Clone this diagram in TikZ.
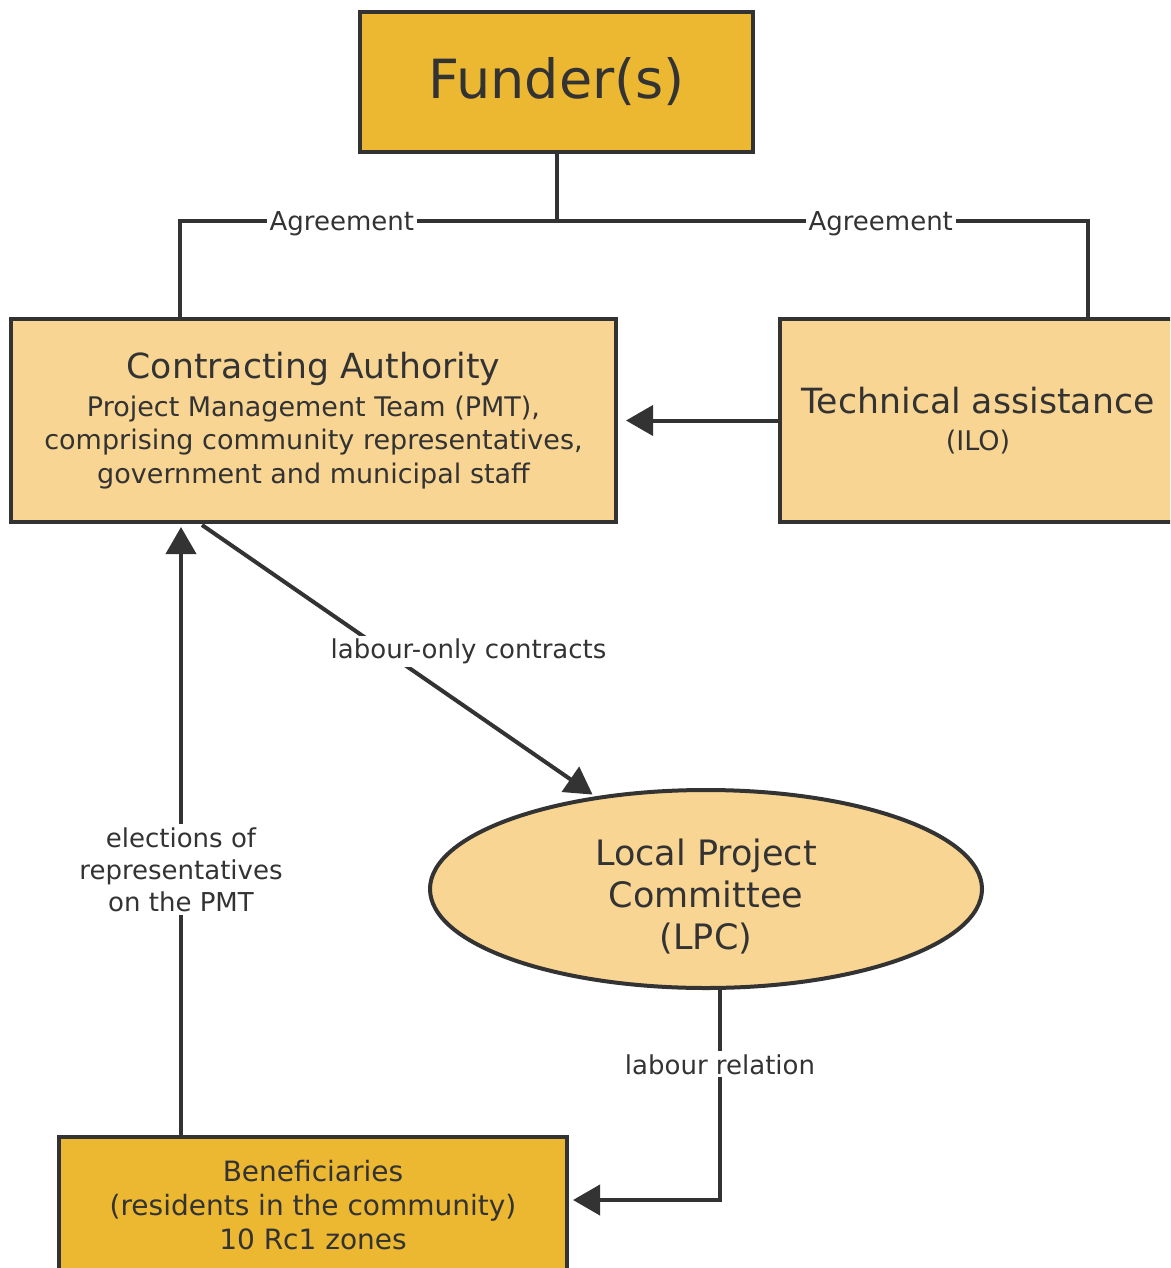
\documentclass[tikz,border=0pt]{standalone}
\usepackage{fontspec}
\setmainfont{DejaVu Sans}
\usetikzlibrary{arrows.meta,shapes.geometric,calc}
\definecolor{gold}{RGB}{236,183,49}
\definecolor{pale}{RGB}{248,213,146}
\definecolor{ink}{RGB}{51,51,51}
\begin{document}
\begin{tikzpicture}[x=1pt,y=-1pt,
  box/.style={draw=ink, line width=4pt, inner sep=0pt, outer sep=0pt, text=ink, align=center},
  lbl/.style={fill=white, text=ink, inner sep=3pt, font=\fontsize{26}{32}\selectfont, align=center},
  conn/.style={draw=ink, line width=4pt},
  arr/.style={draw=ink, line width=4pt, -{Triangle[length=27pt,width=30pt]}}]
\useasboundingbox (0,0) rectangle (1170,1268);
\clip (0,0) rectangle (1170,1268);
\fill[white] (0,0) rectangle (1170,1268);

\node[box, fill=gold, minimum width=393pt, minimum height=140pt, font=\fontsize{54}{60}\selectfont] (F) at (556.5,82) {Funder(s)};

\node[box, fill=pale, minimum width=605pt, minimum height=203pt, font=\fontsize{27}{33.5}\selectfont] (CA) at (313.5,420.5)
  {{\fontsize{34.6}{34}\selectfont Contracting Authority}\\[4pt] Project Management Team (PMT),\\ comprising community representatives,\\ government and municipal staff};

\node[box, fill=pale, minimum width=396pt, minimum height=203pt, font=\fontsize{27}{33.5}\selectfont] (TA) at (978,420.5)
  {{\fontsize{34.7}{34}\selectfont Technical assistance}\\[4pt] (ILO)};

\node[box, ellipse, fill=pale, minimum width=552pt, minimum height=198pt] (LPC) at (706,889) {};
\node[text=ink, align=center, font=\fontsize{35}{42}\selectfont] (LPCt) at ($(LPC.center)+(0,7)$)
  {Local Project\\ Committee\\ (LPC)};

\node[box, fill=gold, minimum width=508pt, minimum height=136pt, font=\fontsize{28}{34}\selectfont] (B) at (313,1205)
  {Beneficiaries\\ (residents in the community)\\ 10 Rc1 zones};

% Agreement lines
\coordinate (fj) at (F.south |- 0,221);
\coordinate (aL) at (180,221);
\coordinate (aR) at (1088,221);
\draw[conn] (F.south) -- (fj);
\draw[conn] (fj) -- node[lbl,pos=0.57,yshift=-3pt]{Agreement} (aL) -- (aL |- CA.north);
\draw[conn] (fj) -- node[lbl,pos=0.61,yshift=-3pt]{Agreement} (aR) -- (aR |- TA.north);

% TA -> CA
\draw[arr, shorten >=10pt] (TA.west) -- (CA.east);

% CA -> LPC
\draw[arr, shorten >=6pt] ($(CA.south west)+(191,3)$) -- node[lbl, pos=0.464, xshift=83pt]{labour-only contracts} (LPC.140.7);

% Beneficiaries -> CA
\coordinate (bu) at ($(B.north west)+(122,0)$);
\draw[arr, shorten >=5pt] (bu) -- node[lbl, pos=0.435, font=\fontsize{26}{32}\selectfont]{elections of\\ representatives\\ on the PMT} (bu |- CA.south);

% LPC -> Beneficiaries
\coordinate (ls) at ($(LPC.south)+(14,0)$);
\coordinate (lc) at (ls |- 0,1200);
\draw[arr, shorten >=6pt] (ls) -- node[lbl,pos=0.36]{labour relation} (lc) -- (lc -| B.east);
\end{tikzpicture}
\end{document}
